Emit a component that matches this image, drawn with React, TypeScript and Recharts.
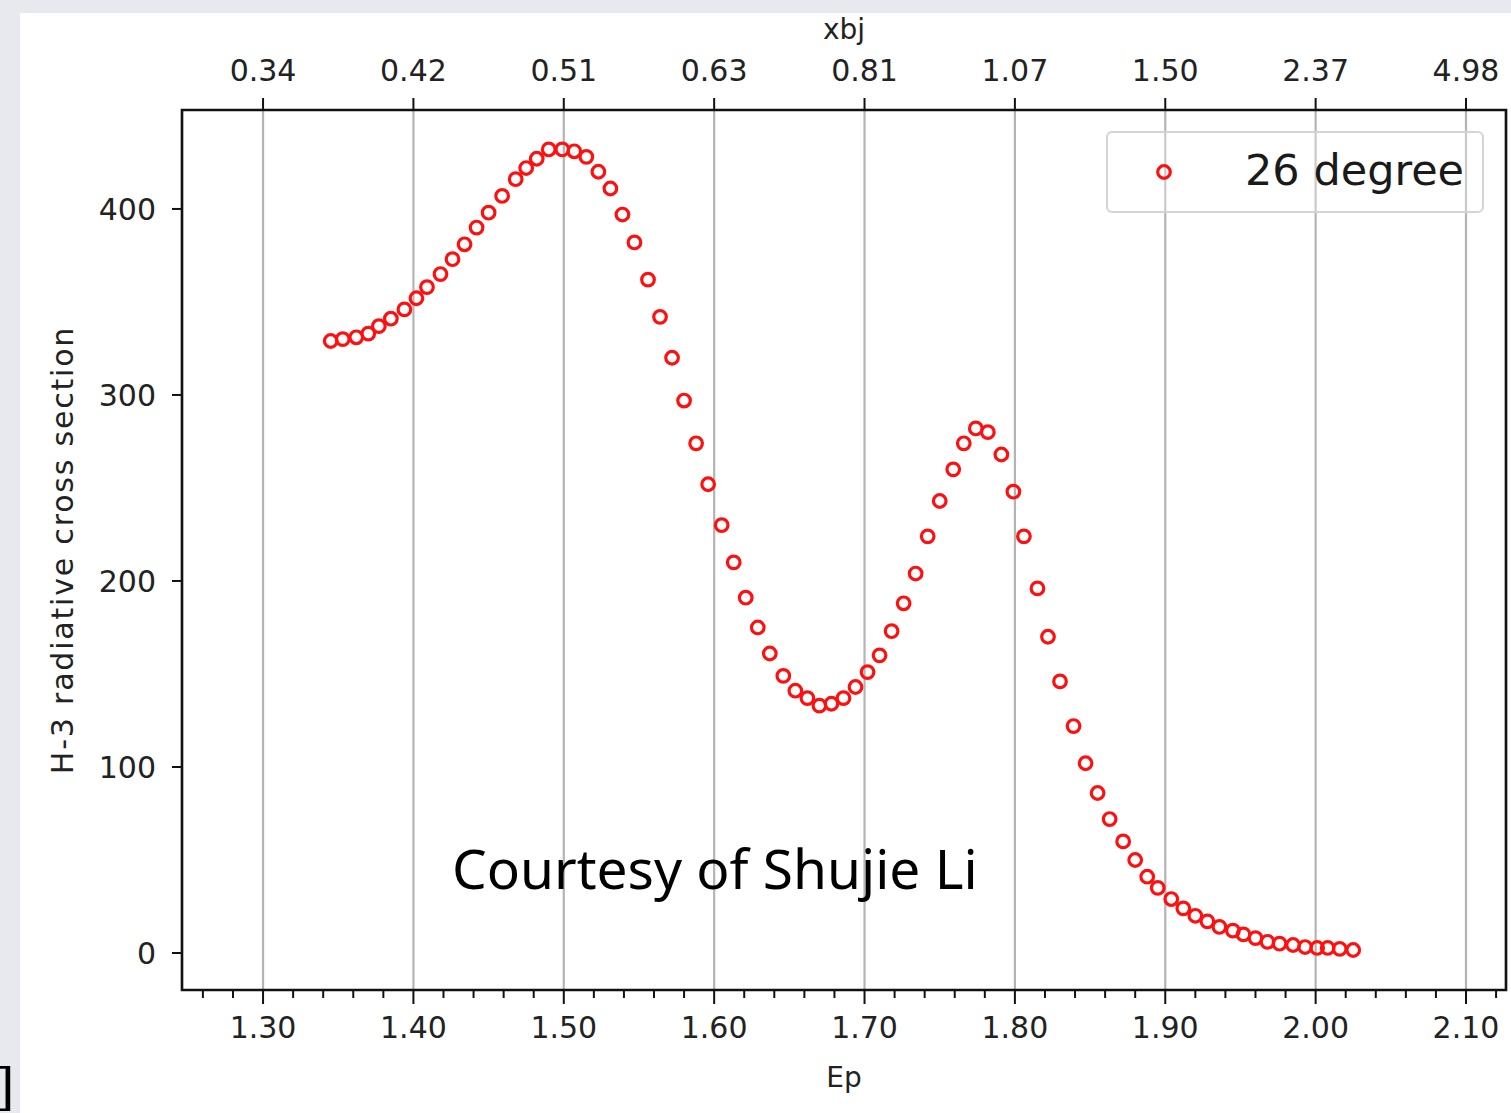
import React from 'react';
import {
    ScatterChart,
    Scatter,
    XAxis,
    YAxis,
    CartesianGrid,
    ReferenceArea,
} from 'recharts';

// Proton energy Ep (GeV) for each measured point
const epValues = [
    1.345, 1.353, 1.362, 1.370, 1.377, 1.385, 1.394, 1.402, 1.409, 1.418,
    1.426, 1.434, 1.442, 1.450, 1.459, 1.468, 1.475, 1.482, 1.490, 1.499,
    1.507, 1.515, 1.523, 1.531, 1.539, 1.547, 1.556, 1.564, 1.572, 1.580,
    1.588, 1.596, 1.605, 1.613, 1.621, 1.629, 1.637, 1.646, 1.654, 1.662,
    1.670, 1.678, 1.686, 1.694, 1.702, 1.710, 1.718, 1.726, 1.734, 1.742,
    1.750, 1.759, 1.766, 1.774, 1.782, 1.791, 1.799, 1.806, 1.815, 1.822,
    1.830, 1.839, 1.847, 1.855, 1.863, 1.872, 1.880, 1.888, 1.895, 1.904,
    1.912, 1.920, 1.928, 1.936, 1.945, 1.952, 1.960, 1.968, 1.976, 1.985,
    1.993, 2.001, 2.008, 2.016, 2.025,
];

// H-3 radiative cross section at 26 degree
const crossSection = [
    329, 330, 331, 333, 337, 341, 346, 352, 358, 365,
    373, 381, 390, 398, 407, 416, 422, 427, 432, 432,
    431, 428, 420, 411, 397, 382, 362, 342, 320, 297,
    274, 252, 230, 210, 191, 175, 161, 149, 141, 137,
    133, 134, 137, 143, 151, 160, 173, 188, 204, 224,
    243, 260, 274, 282, 280, 268, 248, 224, 196, 170,
    146, 122, 102, 86, 72, 60, 50, 41, 35, 29,
    24, 20, 17, 14, 12, 10, 8, 6, 5, 4.3,
    3.2, 2.7, 2.7, 2.2, 1.6,
];

const majorTicks = [1.3, 1.4, 1.5, 1.6, 1.7, 1.8, 1.9, 2.0, 2.1];
const xbjLabels = ['0.34', '0.42', '0.51', '0.63', '0.81', '1.07', '1.50', '2.37', '4.98'];
const bottomTicks = [
    1.26, 1.28, 1.30, 1.32, 1.34, 1.36, 1.38, 1.40, 1.42, 1.44, 1.46,
    1.48, 1.50, 1.52, 1.54, 1.56, 1.58, 1.60, 1.62, 1.64, 1.66, 1.68,
    1.70, 1.72, 1.74, 1.76, 1.78, 1.80, 1.82, 1.84, 1.86, 1.88, 1.90,
    1.92, 1.94, 1.96, 1.98, 2.00, 2.02, 2.04, 2.06, 2.08, 2.10, 2.12,
];
const yTicks = [0, 100, 200, 300, 400];

const X_DOMAIN: [number, number] = [1.2461, 2.1266];
const Y_DOMAIN: [number, number] = [-19.9, 453.2];

const data = epValues.map((ep, i) => ({ ep, xs: crossSection[i] }));

const FONT = '"DejaVu Sans", sans-serif';
const TICK_STYLE = { fontFamily: FONT, fontSize: 30, fill: '#222' };
const MARKER_RED = '#ff1010';

const isMajor = (v: number) => majorTicks.some((m) => Math.abs(m - v) < 1e-6);

// bottom axis: long ticks with labels at majors, short unlabeled minors
const BottomTick = (props: any) => {
    const { x, y, payload } = props;
    const v = payload.value as number;
    const major = isMajor(v);
    return (
        <g>
            <line x1={x} x2={x} y1={y} y2={y + (major ? 14 : 8)} stroke="#111" strokeWidth={2} />
            {major && (
                <text x={x} y={y + 48} textAnchor="middle" {...TICK_STYLE}>
                    {v.toFixed(2)}
                </text>
            )}
        </g>
    );
};

const OpenCircle = (props: any) => {
    const { cx, cy } = props;
    return <circle cx={cx} cy={cy} r={6.3} fill="none" stroke={MARKER_RED} strokeWidth={3.2} />;
};

export default function App() {
    return (
        <div
            style={{
                position: 'fixed',
                left: 0,
                top: 0,
                width: 1511,
                height: 1113,
                background: '#e8e9ee',
                overflow: 'hidden',
            }}
        >
            <div style={{ position: 'absolute', left: 20, top: 13, right: 0, bottom: 0, background: '#fff' }} />
            <div
                style={{
                    position: 'absolute',
                    left: -5,
                    top: 1062,
                    fontFamily: '"DejaVu Serif", serif',
                    fontSize: 50,
                    color: '#000',
                    lineHeight: 1,
                }}
            >
                ]
            </div>
            <div style={{ position: 'absolute', left: 0, top: 0 }}>
                <ScatterChart width={1511} height={1113} margin={{ top: 10, right: 5, bottom: 13, left: 62 }}>
                    <CartesianGrid
                        xAxisId="top"
                        horizontal={false}
                        stroke="#b4b4b4"
                        strokeWidth={2.2}
                    />
                    <XAxis
                        xAxisId="bottom"
                        type="number"
                        dataKey="ep"
                        domain={X_DOMAIN}
                        allowDataOverflow
                        ticks={bottomTicks}
                        interval={0}
                        height={110}
                        axisLine={false}
                        tickLine={false}
                        tickSize={0}
                        tickMargin={0}
                        tick={<BottomTick />}
                        label={{
                            value: 'Ep',
                            position: 'insideBottom',
                            offset: 13,
                            style: { fontFamily: FONT, fontSize: 28, fill: '#222' },
                        }}
                    />
                    <XAxis
                        xAxisId="top"
                        orientation="top"
                        type="number"
                        dataKey="ep"
                        domain={X_DOMAIN}
                        allowDataOverflow
                        ticks={majorTicks}
                        interval={0}
                        height={100}
                        axisLine={false}
                        tickSize={12}
                        tickMargin={17}
                        tickLine={{ stroke: '#111', strokeWidth: 2 }}
                        tick={TICK_STYLE}
                        tickFormatter={(v: number) => xbjLabels[majorTicks.findIndex((m) => Math.abs(m - v) < 1e-6)]}
                        label={{
                            value: 'xbj',
                            position: 'insideTop',
                            offset: 9,
                            style: { fontFamily: FONT, fontSize: 28, fill: '#222' },
                        }}
                    />
                    <YAxis
                        type="number"
                        dataKey="xs"
                        domain={Y_DOMAIN}
                        allowDataOverflow
                        ticks={yTicks}
                        width={120}
                        axisLine={false}
                        tickSize={10}
                        tickMargin={16}
                        tickLine={{ stroke: '#111', strokeWidth: 2 }}
                        tick={TICK_STYLE}
                        label={{
                            value: 'H-3 radiative cross section',
                            angle: -90,
                            position: 'insideLeft',
                            offset: 0,
                            style: {
                                fontFamily: FONT,
                                fontSize: 30,
                                letterSpacing: 1.8,
                                fill: '#222',
                                textAnchor: 'middle',
                            },
                        }}
                    />
                    <ReferenceArea
                        xAxisId="bottom"
                        x1={X_DOMAIN[0]}
                        x2={X_DOMAIN[1]}
                        y1={Y_DOMAIN[0]}
                        y2={Y_DOMAIN[1]}
                        fill="none"
                        stroke="#111"
                        strokeWidth={2.6}
                        ifOverflow="visible"
                    />
                    <Scatter
                        xAxisId="bottom"
                        data={data}
                        shape={<OpenCircle />}
                        isAnimationActive={false}
                    />
                </ScatterChart>
            </div>
            {/* legend */}
            <div
                style={{
                    position: 'absolute',
                    left: 1106,
                    top: 131,
                    width: 374,
                    height: 78,
                    border: '2px solid #d4d4d4',
                    borderRadius: 6,
                    background: 'rgba(255,255,255,0.3)',
                }}
            >
                <svg width={30} height={30} style={{ position: 'absolute', left: 41, top: 24 }}>
                    <circle cx={15} cy={15} r={6.3} fill="none" stroke={MARKER_RED} strokeWidth={3.2} />
                </svg>
                <div
                    style={{
                        position: 'absolute',
                        left: 137,
                        top: 9,
                        fontFamily: FONT,
                        fontSize: 43,
                        color: '#1a1a1a',
                        whiteSpace: 'nowrap',
                        lineHeight: '56px',
                    }}
                >
                    26 degree
                </div>
            </div>
            <div
                style={{
                    position: 'absolute',
                    left: 452,
                    top: 831,
                    fontFamily: '"Noto Sans", sans-serif',
                    fontSize: 55,
                    color: '#000',
                    whiteSpace: 'nowrap',
                    lineHeight: '74px',
                }}
            >
                Courtesy of Shujie Li
            </div>
        </div>
    );
}
